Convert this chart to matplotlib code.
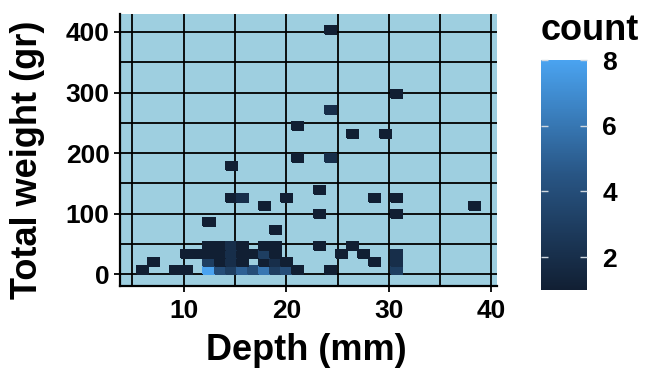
import numpy as np
import matplotlib
matplotlib.use("Agg")
import matplotlib.pyplot as plt
from matplotlib.colors import LinearSegmentedColormap, Normalize
from matplotlib.ticker import MultipleLocator

# ---- data: 2D-bin centres (depth in mm, total weight in gr) and counts ----
depth = [24.32, 30.79, 24.32, 21.09, 26.48, 29.71, 21.09, 24.32, 14.62, 23.25,
         14.62, 15.70, 20.01, 28.63, 30.79, 17.86, 38.34, 23.25, 30.79, 12.47, 18.93,
         # row ~47
         12.47, 13.54, 14.62, 15.70, 17.86, 18.93, 23.25, 26.48,
         # row ~34
         10.31, 11.39, 12.47, 13.54, 14.62, 15.70, 16.78, 17.86, 18.93, 25.40, 27.56, 30.79,
         # row ~21
         7.08, 12.47, 13.54, 14.62, 15.70, 17.86, 18.93, 20.01, 28.63, 30.79,
         # row ~8
         6.00, 9.23, 10.31, 12.47, 13.54, 14.62, 15.70, 16.78, 17.86, 18.93, 20.01,
         21.09, 24.32, 30.79]
weight = [402.7, 297.3, 271.0, 244.6, 231.5, 231.5, 192.0, 192.0, 178.8, 139.3,
          126.1, 126.1, 126.1, 126.1, 126.1, 112.9, 112.9, 99.8, 99.8, 86.6, 73.4,
          47.1, 47.1, 47.1, 47.1, 47.1, 47.1, 47.1, 47.1,
          33.9, 33.9, 33.9, 33.9, 33.9, 33.9, 33.9, 33.9, 33.9, 33.9, 33.9, 33.9,
          20.8, 20.8, 20.8, 20.8, 20.8, 20.8, 20.8, 20.8, 20.8, 20.8,
          7.6, 7.6, 7.6, 7.6, 7.6, 7.6, 7.6, 7.6, 7.6, 7.6, 7.6,
          7.6, 7.6, 7.6]
count = [1, 1, 2, 1, 1, 1, 1, 2, 1, 1,
         1, 2, 1, 1, 1, 1, 1, 1, 1, 1, 1,
         1, 1, 2, 1, 1, 1, 1, 1,
         1, 1, 1, 1, 2, 1, 1, 3, 1, 1, 1, 2,
         1, 3, 1, 2, 1, 1, 2, 1, 1, 2,
         1, 1, 1, 8, 4, 3, 5, 4, 6, 3, 4,
         1, 1, 3]

x_ticks = [10, 20, 30, 40]
y_ticks = [0, 100, 200, 300, 400]
cbar_ticks = [2, 4, 6, 8]

# bin grid (ggplot geom_bin2d style)
x0, dx, nx = 5.458, 1.078, 31
y0, dy, ny = 1.0, 13.17, 31
x_edges = x0 + dx * np.arange(nx + 1)
y_edges = y0 + dy * np.arange(ny + 1)

plt.rcParams['font.family'] = ['Liberation Sans', 'DejaVu Sans']
plt.rcParams['font.weight'] = 'bold'

W, H = 672, 384
fig = plt.figure(figsize=(W / 100, H / 100), dpi=100)
ax = fig.add_axes([120 / W, 1 - 286 / H, 377 / W, 272 / H])
ax.set_facecolor('#9ecfe0')

cmap = LinearSegmentedColormap.from_list('gg', ['#111f33', '#285584', '#4aa3f0'])
norm = Normalize(vmin=1, vmax=8)
h, xe, ye, qm = ax.hist2d(depth, weight, bins=[x_edges, y_edges], weights=count,
                          cmin=1, cmap=cmap, norm=norm, zorder=2)
qm.set_edgecolor('face')
qm.set_linewidth(0.3)

xr = x_edges[-1] - x_edges[0]
yr = y_edges[-1] - y_edges[0]
ax.set_xlim(x_edges[0] - 0.05 * xr, x_edges[-1] + 0.05 * xr)
ax.set_ylim(y_edges[0] - 0.05 * yr, y_edges[-1] + 0.05 * yr)

ax.set_xticks(x_ticks)
ax.set_yticks(y_ticks)
ax.xaxis.set_minor_locator(MultipleLocator(10, offset=5))
ax.yaxis.set_minor_locator(MultipleLocator(100, offset=50))
ax.set_axisbelow(True)
ax.grid(True, which='both', color='black', linewidth=1.3, zorder=0)

for s in ['top', 'right']:
    ax.spines[s].set_visible(False)
for s in ['left', 'bottom']:
    ax.spines[s].set_color('black')
    ax.spines[s].set_linewidth(1.6)

ax.tick_params(which='major', length=4.5, width=1.3, color='black',
               labelsize=19, labelcolor='black')
ax.tick_params(axis='x', which='major', pad=5)
ax.tick_params(axis='y', which='major', pad=3)
ax.tick_params(which='minor', length=0)
for lab in ax.get_xticklabels() + ax.get_yticklabels():
    lab.set_fontweight('bold')

fig.text(306 / W, 1 - 350 / H, 'Depth (mm)', fontsize=26, fontweight='bold',
         ha='center', va='center')
fig.text(28 / W, 1 - 160 / H, 'Total weight (gr)', fontsize=26, fontweight='bold',
         ha='center', va='center', rotation=90)

# colour bar
cax = fig.add_axes([541 / W, 1 - 290 / H, 46 / W, 230 / H])
cb = fig.colorbar(qm, cax=cax, ticks=cbar_ticks)
cb.outline.set_visible(False)
cax.tick_params(direction='in', color='#d0d8e0', length=5, width=1,
                left=True, right=True, labelleft=False, labelright=True,
                labelsize=19, labelcolor='black', pad=11)
for lab in cax.get_yticklabels():
    lab.set_fontweight('bold')
fig.text(541 / W, 1 - 30 / H, 'count', fontsize=26, fontweight='bold',
         ha='left', va='center')

fig.savefig('out.png', dpi=100)
